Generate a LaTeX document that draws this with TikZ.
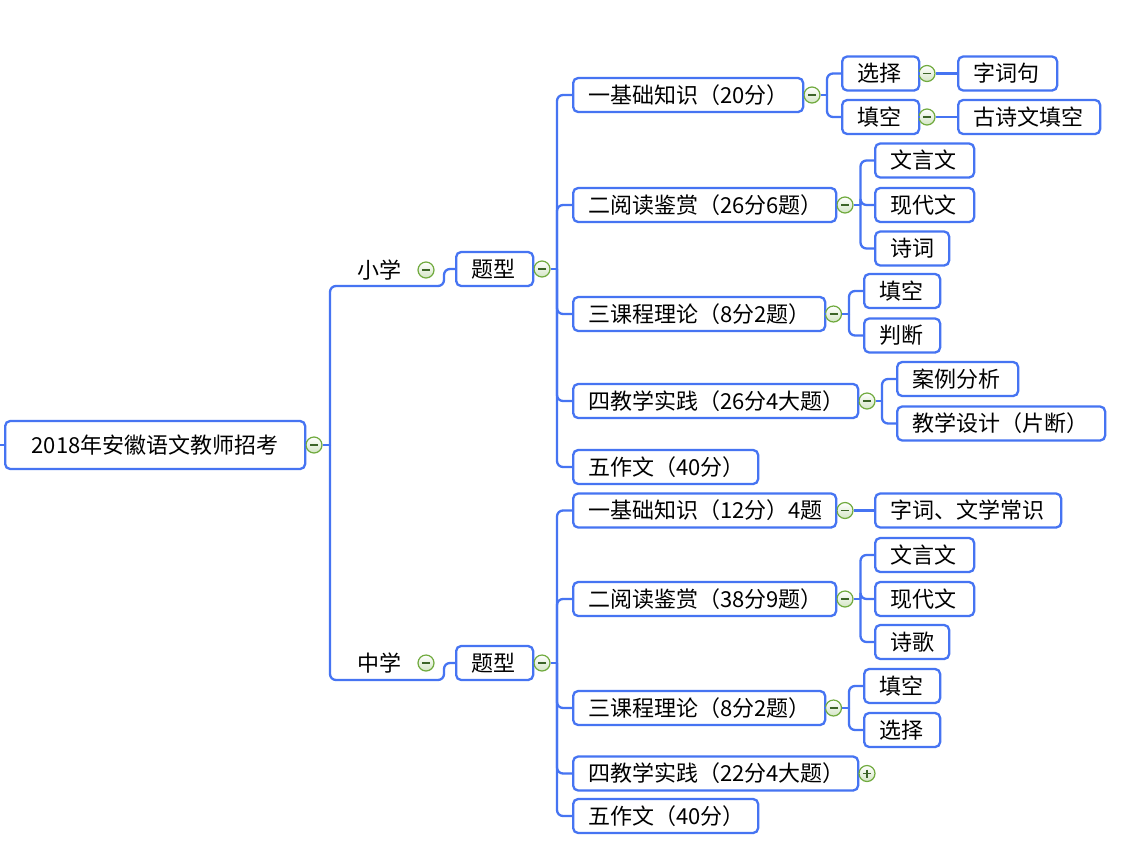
\documentclass[tikz,border=0pt]{standalone}
\usepackage{fontspec}
\setmainfont{Noto Sans CJK SC}
\definecolor{bl}{RGB}{70,116,242}
\definecolor{gb}{RGB}{112,170,62}
\definecolor{gd}{RGB}{60,100,40}
\newcommand\fz{\fontsize{22}{26}\selectfont}
\tikzset{
  conn/.style={draw=bl, line width=2.3pt, rounded corners=6pt},
  bx/.style={draw=bl, line width=2.3pt, rounded corners=5pt, minimum height=34pt,
    inner xsep=15pt, inner ysep=0pt, anchor=west, align=left, font=\fz,
    text height=17pt, text depth=1pt},
  plain/.style={font=\fz, inner sep=0pt, text height=17pt, text depth=1pt},
  tog/.style={circle, draw=gb, line width=1.2pt, minimum size=16pt, inner sep=0pt,
    top color=white, bottom color=gb!30,
    path picture={\draw[line width=1.3pt, gd] ([xshift=4pt]path picture bounding box.west) -- ([xshift=-4pt]path picture bounding box.east);}},
  togp/.style={circle, draw=gb, line width=1.2pt, minimum size=16pt, inner sep=0pt,
    top color=white, bottom color=gb!30,
    path picture={\draw[line width=1.3pt, gd] ([xshift=4pt]path picture bounding box.west) -- ([xshift=-4pt]path picture bounding box.east)
      ([yshift=-4pt]path picture bounding box.north) -- ([yshift=4pt]path picture bounding box.south);}}
}
\begin{document}
\begin{tikzpicture}[x=1pt,y=-1pt]
\useasboundingbox[fill=white] (0,0) rectangle (1122,847);

% root
\node[bx, minimum width=300pt, minimum height=48pt, align=center] (root) at (4,445) {2018年安徽语文教师招考};
\coordinate (lstub) at (0,445);
\node[tog] (c0) at (314,445) {};
\coordinate (j0) at (330,445);
\draw[conn] (lstub) -- (root.west);
\draw[conn] (root.east) -- (c0.west);
\draw[conn] (c0.east) -- (j0);

% ===== 小学 =====
\node[plain] (xx) at (379,270) {小学};
\node[tog] (cxx) at (426,270) {};
\coordinate (xxr) at (444,286);
\node[bx, text width=47pt] (t1) at (455,269) {题型};
\draw[conn] (j0) |- (xxr) |- (t1.west);
\node[tog] (ct1) at (542,269) {};
\coordinate (j1) at (557,269);
\draw[conn] (t1.east) -- (ct1.west);
\draw[conn] (ct1.east) -- (j1);

\node[bx, text width=200pt] (a1) at (572,95) {一基础知识（20分）};
\node[bx, text width=233pt] (a2) at (572,205) {二阅读鉴赏（26分6题）};
\node[bx, text width=222pt] (a3) at (572,314) {三课程理论（8分2题）};
\node[bx, text width=255pt] (a4) at (572,401) {四教学实践（26分4大题）};
\node[bx, text width=155pt] (a5) at (572,467) {五作文（40分）};
\foreach \n in {a1,a2,a3,a4,a5} {\draw[conn] (j1) |- (\n.west);}

% a1 children
\node[tog] (ca1) at (812,95) {};
\coordinate (ja1) at (827,95);
\draw[conn] (a1.east) -- (ca1.west);
\draw[conn] (ca1.east) -- (ja1);
\node[bx, text width=47pt] (b11) at (841,73.5) {选择};
\node[bx, text width=47pt] (b12) at (841,117) {填空};
\draw[conn] (ja1) |- (b11.west);
\draw[conn] (ja1) |- (b12.west);
\node[tog] (cb11) at (927,73.5) {};
\node[tog] (cb12) at (927,117) {};
\node[bx, text width=69pt] (c11) at (957,73.5) {字词句};
\node[bx, text width=112pt] (c12) at (957,117) {古诗文填空};
\draw[conn] (b11.east) -- (cb11.west);
\draw[conn] (cb11.east) -- (c11.west);
\draw[conn] (b12.east) -- (cb12.west);
\draw[conn] (cb12.east) -- (c12.west);

% a2 children
\node[tog] (ca2) at (845,205) {};
\coordinate (ja2) at (860.5,205);
\draw[conn] (a2.east) -- (ca2.west);
\draw[conn] (ca2.east) -- (ja2);
\node[bx, text width=69pt] (b21) at (874,160.5) {文言文};
\node[bx, text width=69pt] (b22) at (874,205) {现代文};
\node[bx, text width=44pt] (b23) at (874,248.5) {诗词};
\foreach \n in {b21,b22,b23} {\draw[conn] (ja2) |- (\n.west);}

% a3 children
\node[tog] (ca3) at (833.5,314) {};
\coordinate (ja3) at (849,314);
\draw[conn] (a3.east) -- (ca3.west);
\draw[conn] (ca3.east) -- (ja3);
\node[bx, text width=46pt] (b31) at (863,291) {填空};
\node[bx, text width=46pt] (b32) at (863,335.5) {判断};
\foreach \n in {b31,b32} {\draw[conn] (ja3) |- (\n.west);}

% a4 children
\node[tog] (ca4) at (867,401) {};
\coordinate (ja4) at (882,401);
\draw[conn] (a4.east) -- (ca4.west);
\draw[conn] (ca4.east) -- (ja4);
\node[bx, text width=91pt] (b41) at (896,379) {案例分析};
\node[bx, text width=178pt] (b42) at (896,423.5) {教学设计（片断）};
\foreach \n in {b41,b42} {\draw[conn] (ja4) |- (\n.west);}

% ===== 中学 =====
\node[plain] (zx) at (379,663) {中学};
\node[tog] (czx) at (426,663) {};
\coordinate (zxr) at (444,680);
\node[bx, text width=47pt] (t2) at (455,663) {题型};
\draw[conn] (j0) |- (zxr) |- (t2.west);
\node[tog] (ct2) at (542,663) {};
\coordinate (j2) at (557,663);
\draw[conn] (t2.east) -- (ct2.west);
\draw[conn] (ct2.east) -- (j2);

\node[bx, text width=233pt] (d1) at (572,510.5) {一基础知识（12分）4题};
\node[bx, text width=233pt] (d2) at (572,599) {二阅读鉴赏（38分9题）};
\node[bx, text width=222pt] (d3) at (572,708) {三课程理论（8分2题）};
\node[bx, text width=255pt] (d4) at (572,773.5) {四教学实践（22分4大题）};
\node[bx, text width=155pt] (d5) at (572,816) {五作文（40分）};
\foreach \n in {d1,d2,d3,d4,d5} {\draw[conn] (j2) |- (\n.west);}

% d1 child
\node[tog] (cd1) at (845,510.5) {};
\node[bx, text width=156pt] (e1) at (874,510.5) {字词、文学常识};
\draw[conn] (d1.east) -- (cd1.west);
\draw[conn] (cd1.east) -- (e1.west);

% d2 children
\node[tog] (cd2) at (845,599) {};
\coordinate (jd2) at (860.5,599);
\draw[conn] (d2.east) -- (cd2.west);
\draw[conn] (cd2.east) -- (jd2);
\node[bx, text width=69pt] (e21) at (874,555) {文言文};
\node[bx, text width=69pt] (e22) at (874,599) {现代文};
\node[bx, text width=44pt] (e23) at (874,642) {诗歌};
\foreach \n in {e21,e22,e23} {\draw[conn] (jd2) |- (\n.west);}

% d3 children
\node[tog] (cd3) at (833.5,708) {};
\coordinate (jd3) at (849,708);
\draw[conn] (d3.east) -- (cd3.west);
\draw[conn] (cd3.east) -- (jd3);
\node[bx, text width=46pt] (e31) at (863,686) {填空};
\node[bx, text width=46pt] (e32) at (863,730) {选择};
\foreach \n in {e31,e32} {\draw[conn] (jd3) |- (\n.west);}

% d4 collapsed
\node[togp] (cd4) at (867,773.5) {};
\end{tikzpicture}
\end{document}
